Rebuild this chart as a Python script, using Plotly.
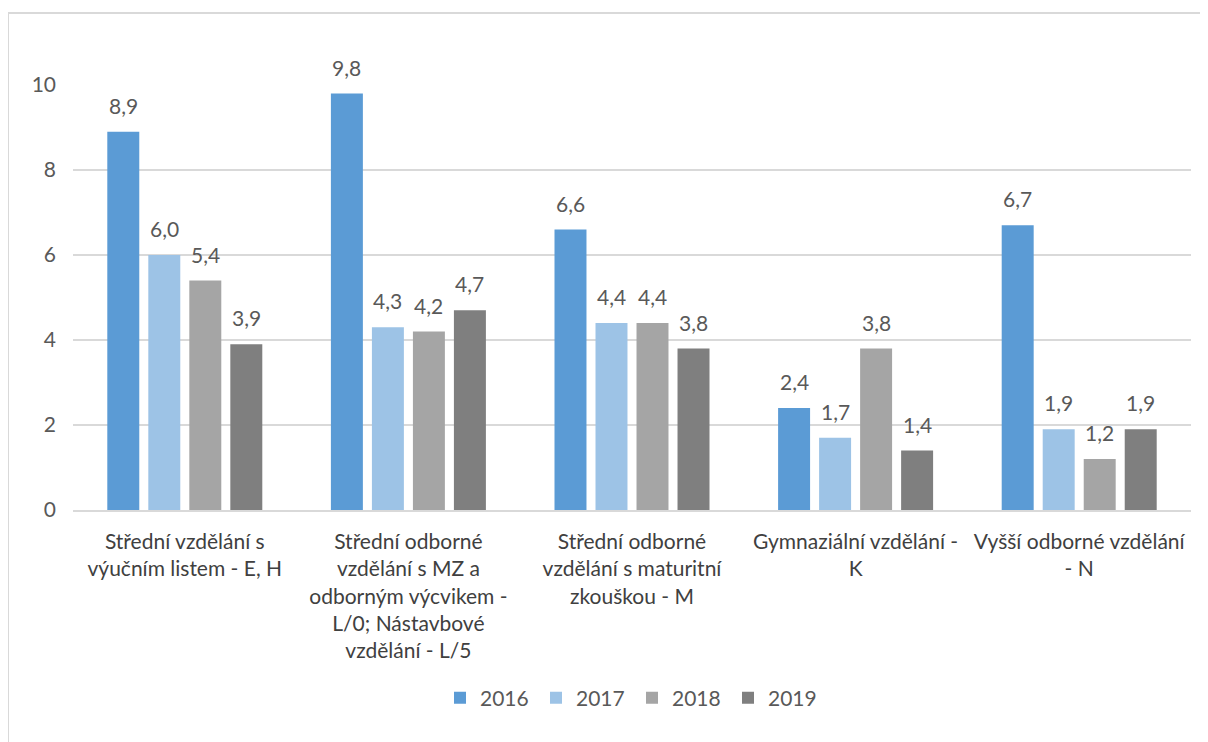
import plotly.graph_objects as go

categories = [
    "Střední vzdělání s<br>výučním listem - E, H",
    "Střední odborné<br>vzdělání s MZ a<br>odborným výcvikem -<br>L/0; Nástavbové<br>vzdělání - L/5",
    "Střední odborné<br>vzdělání s maturitní<br>zkouškou - M",
    "Gymnaziální vzdělání -<br>K",
    "Vyšší odborné vzdělání<br>- N",
]
years = ["2016", "2017", "2018", "2019"]
v2016 = [8.9, 9.8, 6.6, 2.4, 6.7]
v2017 = [6.0, 4.3, 4.4, 1.7, 1.9]
v2018 = [5.4, 4.2, 4.4, 3.8, 1.2]
v2019 = [3.9, 4.7, 3.8, 1.4, 1.9]
series = [v2016, v2017, v2018, v2019]
colors = ["#5B9BD5", "#9DC3E6", "#A5A5A5", "#7F7F7F"]

FONT = "Lato"
TXT = "#595959"
FS = 21

# page body has an 8px margin in the viewer
W, H = 1208, 742
L, R, T, B = 65, 25, 77, 240
pw, ph = W - L - R, H - T - B

SLOT = 0.1834   # fraction of category width per bar slot
BARW = 0.143    # bar width in category units

fig = go.Figure()
annotations = []
n = len(series)
for k, (name, vals, col) in enumerate(zip(years, series, colors)):
    center = (k - (n - 1) / 2) * SLOT
    fig.add_trace(go.Bar(
        x=categories, y=vals, name=name,
        marker=dict(color=col, line=dict(width=0)),
        width=BARW, offset=center - BARW / 2,
        hovertemplate="%{y:.1f}<extra>" + name + "</extra>",
    ))
    for i, v in enumerate(vals):
        annotations.append(dict(
            x=i + center, y=v, xref="x", yref="y",
            text=f"{v:.1f}".replace(".", ","), showarrow=False,
            yanchor="bottom", xanchor="center", yshift=12,
            font=dict(family=FONT, size=FS, color=TXT),
        ))


def px_x(x):
    return (x - L) / pw


def px_y(y):
    return (H - B - y) / ph


fig.add_shape(type="rect", xref="paper", yref="paper",
              x0=px_x(0), x1=px_x(1215), y0=px_y(5), y1=px_y(760),
              line=dict(color="#D9D9D9", width=2), fillcolor="rgba(0,0,0,0)", layer="below")

fig.update_layout(
    width=W, height=H,
    margin=dict(l=L, r=R, t=T, b=B, autoexpand=False),
    paper_bgcolor="white", plot_bgcolor="white",
    font=dict(family=FONT, size=FS, color=TXT),
    barmode="overlay",
    showlegend=True,
    annotations=annotations,
    legend=dict(orientation="h", x=0.5, xanchor="center", y=px_y(690), yanchor="middle",
                font=dict(size=FS, color=TXT, family=FONT), itemwidth=30,
                entrywidth=51, entrywidthmode="pixels", traceorder="normal"),
    xaxis=dict(showgrid=False, showline=True, linecolor="#D9D9D9", linewidth=1.5,
               ticks="", tickfont=dict(size=FS, color="#404040", family=FONT),
               ticklabelstandoff=12, tickangle=0, fixedrange=True, automargin=False),
    yaxis=dict(range=[0, 10], dtick=2, showgrid=True, gridcolor="#D9D9D9", gridwidth=1.5,
               zeroline=False, showline=False, ticks="",
               tickfont=dict(size=FS, color=TXT, family=FONT), ticklabelstandoff=16,
               fixedrange=True, automargin=False),
)

fig.write_html("out.html")
